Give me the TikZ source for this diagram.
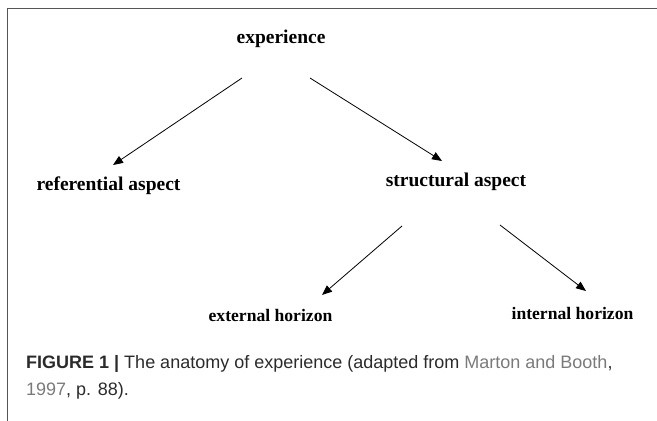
\documentclass[tikz,border=0pt]{standalone}
\usepackage{fontspec}
\setmainfont{Liberation Serif}
\newfontfamily\capfont{Liberation Sans}
\usetikzlibrary{arrows.meta}
\definecolor{frameC}{HTML}{555555}
\definecolor{capText}{HTML}{2B2B2B}
\definecolor{capLink}{HTML}{7A7A7A}
\tikzset{
  lbl/.style={inner sep=0pt, anchor=base, font=\bfseries\fontsize{19.5}{22}\selectfont},
  lblsmall/.style={inner sep=0pt, anchor=base, font=\bfseries\fontsize{17.6}{20}\selectfont},
  arr/.style={draw=black, line width=0.8pt, -{Triangle[length=10pt,width=8pt]}},
  frame/.style={draw=frameC, line width=1.6pt},
  captext/.style={inner sep=0pt, anchor=base west, text=capText,
      font=\capfont\fontsize{18}{27}\selectfont},
}
\begin{document}
\begin{tikzpicture}[x=1pt,y=-1pt]
\useasboundingbox (0,0) rectangle (657,421);
% frame
\coordinate (fTR) at (657,8.5);
\coordinate (fTL) at (7.5,8.5);
\coordinate (fBL) at (7.5,421);
\draw[frame] (fTR) -- (fTL) -- (fBL);
% labels
\node[lbl] (exp) at (281,43.5) {experience};
\node[lbl] (ref) at (108.5,190.5) {referential aspect};
\node[lbl] (str) at (456,186.7) {structural aspect};
\node[lblsmall] (ext) at (270.5,321) {external horizon};
\node[lblsmall] (int) at (572.5,319.5) {internal horizon};
% arrow end points
\coordinate (a1s) at (242,78);  \coordinate (a1e) at (113,165);
\coordinate (a2s) at (310,78);  \coordinate (a2e) at (442,161);
\coordinate (a3s) at (402,226); \coordinate (a3e) at (322,295);
\coordinate (a4s) at (500,225); \coordinate (a4e) at (586,291);
\draw[arr] (a1s) -- (a1e);
\draw[arr] (a2s) -- (a2e);
\draw[arr] (a3s) -- (a3e);
\draw[arr] (a4s) -- (a4e);
% caption
\node[captext] (cap1) at (26,368)
  {\textbf{FIGURE 1 |} The anatomy of experience (adapted from \textcolor{capLink}{Marton and Booth},};
\node[captext] (cap2) at (26,395)
  {\textcolor{capLink}{1997}, p. 88).};
\end{tikzpicture}
\end{document}
